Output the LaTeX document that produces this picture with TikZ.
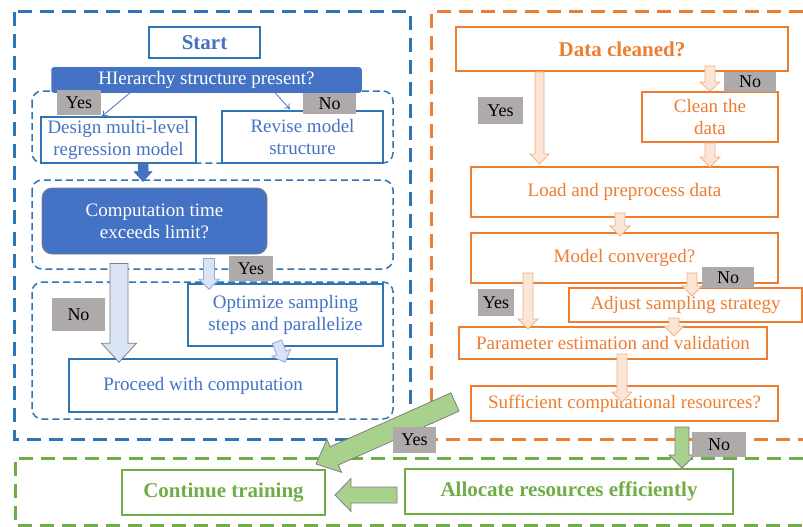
\documentclass[tikz,border=0pt]{standalone}
\usepackage{fontspec}
\setmainfont{Liberation Serif}
\usetikzlibrary{calc,arrows.meta}

\definecolor{bframe}{HTML}{2E75B6}
\definecolor{bfill}{HTML}{4472C4}
\definecolor{blight}{HTML}{DAE3F3}
\definecolor{bedge}{HTML}{8FAADC}
\definecolor{orng}{HTML}{ED7D31}
\definecolor{olight}{HTML}{FBE5D6}
\definecolor{oedge}{HTML}{F4B183}
\definecolor{grn}{HTML}{70AD47}
\definecolor{glight}{HTML}{A9D18E}
\definecolor{lblgray}{HTML}{AEAAAA}
\definecolor{edgegray}{HTML}{7F7F7F}

\tikzset{
  wh/.style 2 args={minimum width=#1pt,minimum height=#2pt},
  frame/.style={line width=3pt,dash pattern=on 14pt off 8pt},
  group/.style={draw=bframe,line width=1.5pt,dash pattern=on 7pt off 4pt,rounded corners=10pt},
  box/.style={draw,fill=white,line width=1.5pt,align=center,inner sep=0pt,font=\fontsize{19}{22}\selectfont},
  bbox/.style={box,draw=bframe,text=bfill},
  obox/.style={box,draw=orng,text=orng,line width=2pt},
  gbox/.style={box,draw=grn,text=grn,line width=2pt,font=\fontsize{21}{24}\selectfont\bfseries},
  lbl/.style={fill=lblgray,inner sep=0pt,font=\fontsize{18}{20}\selectfont},
  thinarr/.style={draw=bfill,line width=0.8pt,-{To[length=5pt,width=7pt]}},
  bsolid/.style={fill=bfill,draw=bfill,line width=0.5pt},
  bfat/.style={fill=blight,draw=bedge,line width=0.8pt},
  bfatg/.style={fill=blight,draw=edgegray,line width=0.8pt},
  ofat/.style={fill=olight,draw=oedge,line width=0.8pt},
  gfat/.style={fill=glight,draw=edgegray,line width=0.8pt}
}

% block arrow: [style]{tail}{tip}{shaft half width}{head half width}{head length}
\newcommand{\fatarrow}[6][]{%
  \path (#2) coordinate (fa-s) (#3) coordinate (fa-e);
  \path ($(fa-e)!#6!(fa-s)$) coordinate (fa-b);
  \filldraw[#1,line join=miter] ($(fa-s)!#4!90:(fa-e)$) -- ($(fa-b)!#4!90:(fa-e)$)
    -- ($(fa-b)!#5!90:(fa-e)$) -- (fa-e) -- ($(fa-b)!#5!-90:(fa-e)$)
    -- ($(fa-b)!#4!-90:(fa-e)$) -- ($(fa-s)!#4!-90:(fa-e)$) -- cycle;}

\begin{document}
\begin{tikzpicture}[x=1pt,y=-1pt]
\useasboundingbox (0,0) rectangle (803,527);

% frames
\draw[frame,draw=bframe] (14,12) rectangle (410,439);
\draw[frame,draw=orng] (803,12) -- (431,12) -- (431,439) -- (803,439);
\draw[frame,draw=grn] (803,458) -- (15,458) -- (15,525) -- (803,525);
\draw[group] (32,91) rectangle (393,163);
\draw[group] (32,180) rectangle (393,269);
\draw[group] (32,282) rectangle (393,419);

% left part
\node[bbox,wh={111}{31},font=\fontsize{21}{24}\selectfont\bfseries] (start) at (204.5,42.5) {Start};
\node[box,wh={309}{24},fill=bfill,draw=bfill,text=white,rounded corners=2pt] (hier) at (206.5,80) {HIerarchy structure present?};
\node[bbox,wh={155}{46}] (design) at (118.5,140) {Design multi-level\\regression model};
\node[bbox,wh={161}{52}] (revise) at (302.5,137) {Revise model\\structure};
\node[box,wh={225}{66},fill=bfill,draw=edgegray,line width=0.8pt,text=white,rounded corners=10pt] (comp) at (154.5,221) {Computation time\\exceeds limit?};
\node[bbox,wh={195}{62}] (optim) at (285.5,315) {Optimize sampling\\steps and parallelize};
\node[bbox,wh={268}{53}] (proceed) at (203,385.5) {Proceed with computation};

% right part
\node[obox,wh={332}{44},font=\fontsize{21}{24}\selectfont\bfseries] (data) at (622,49) {Data cleaned?};
\node[obox,wh={136}{50}] (cleanbox) at (710,117) {Clean the\\data};
\node[obox,wh={307}{50}] (load) at (624.5,192) {Load and preprocess data};
\node[obox,wh={307}{50}] (model) at (624.5,258) {Model converged?};
\node[obox,wh={233}{34}] (adjust) at (685.5,305) {Adjust sampling strategy};
\node[obox,wh={308}{32}] (param) at (613,343) {Parameter estimation and validation};
\node[obox,wh={307}{35}] (suff) at (624.5,403.5) {Sufficient computational resources?};

% bottom part
\node[gbox,wh={203}{45}] (cont) at (223.5,492.5) {Continue training};
\node[gbox,wh={328}{45}] (alloc) at (569,491.5) {Allocate resources efficiently};

% connectors
\draw[thinarr] ($(hier.south)+(-76.5,0)$) -- ($(design.north)+(-16.5,0)$);
\draw[thinarr] ($(hier.south)+(68.5,0)$) -- ($(revise.north)+(-12.5,-1)$);
\fatarrow[bsolid]{$(design.south)+(24.5,0)$}{$(comp.north)+(-11.5,-6)$}{5pt}{9pt}{10pt}
\fatarrow[bfatg]{$(comp.south)+(-35.5,9)$}{$(proceed.north)+(-84,4)$}{9pt}{17.5pt}{19pt}
\fatarrow[bfat]{$(comp.south)+(54.5,4)$}{$(optim.north)+(-76.5,6)$}{5.5pt}{10pt}{10pt}
\fatarrow[bfat]{$(optim.south)+(-8.5,-5)$}{$(proceed.north)+(82,4)$}{5pt}{10pt}{10pt}
\fatarrow[ofat]{$(data.south)+(-82.5,0)$}{$(load.north)+(-85,-2)$}{4.5pt}{9.5pt}{10pt}
\fatarrow[ofat]{$(data.south)+(88,-6)$}{cleanbox.north}{5pt}{10pt}{9pt}
\fatarrow[ofat]{cleanbox.south}{$(load.north)+(85.5,1)$}{5pt}{10pt}{10pt}
\fatarrow[ofat]{$(load.south)+(-4.5,-5)$}{$(model.north)+(-4.5,4)$}{5pt}{10pt}{10pt}
\fatarrow[ofat]{$(model.south)+(-96.5,-11)$}{$(param.north)+(-85,3)$}{5pt}{10pt}{10pt}
\fatarrow[ofat]{$(model.south)+(67.5,-11)$}{$(adjust.north)+(6.5,9)$}{5pt}{10pt}{10pt}
\fatarrow[ofat]{$(adjust.south)+(-11.5,-5)$}{$(param.north)+(61,10)$}{5pt}{10pt}{10pt}
\fatarrow[ofat]{$(param.south)+(9,-6)$}{$(suff.north)+(-2.5,17)$}{5pt}{10pt}{10pt}
\fatarrow[gfat]{$(suff.west)+(-15,-1.5)$}{$(cont.north east)+(-10,-5)$}{10pt}{18pt}{20pt}
\fatarrow[gfat]{$(suff.south)+(57.5,5)$}{$(alloc.north)+(113,0)$}{7pt}{13pt}{13pt}
\fatarrow[gfat]{$(alloc.west)+(-7,3.5)$}{$(cont.east)+(9,2.5)$}{8pt}{16.5pt}{16pt}

% yes / no labels
\node[lbl,wh={44}{25}] (yes1) at (79,102.5) {Yes};
\node[lbl,wh={53}{21}] (no1) at (329.5,103.5) {No};
\node[lbl,wh={44}{25}] (yes2) at (251,268.5) {Yes};
\node[lbl,wh={53}{33}] (no2) at (78.5,314.5) {No};
\node[lbl,wh={45}{27}] (yes3) at (500.5,110.5) {Yes};
\node[lbl,wh={52}{20}] (no3) at (750,82) {No};
\node[lbl,wh={36}{27}] (yes4) at (496,302.5) {Yes};
\node[lbl,wh={52}{21}] (no4) at (728,277.5) {No};
\node[lbl,wh={43}{26}] (yes5) at (414.5,440) {Yes};
\node[lbl,wh={54}{25}] (no5) at (719,444.5) {No};
\end{tikzpicture}
\end{document}
